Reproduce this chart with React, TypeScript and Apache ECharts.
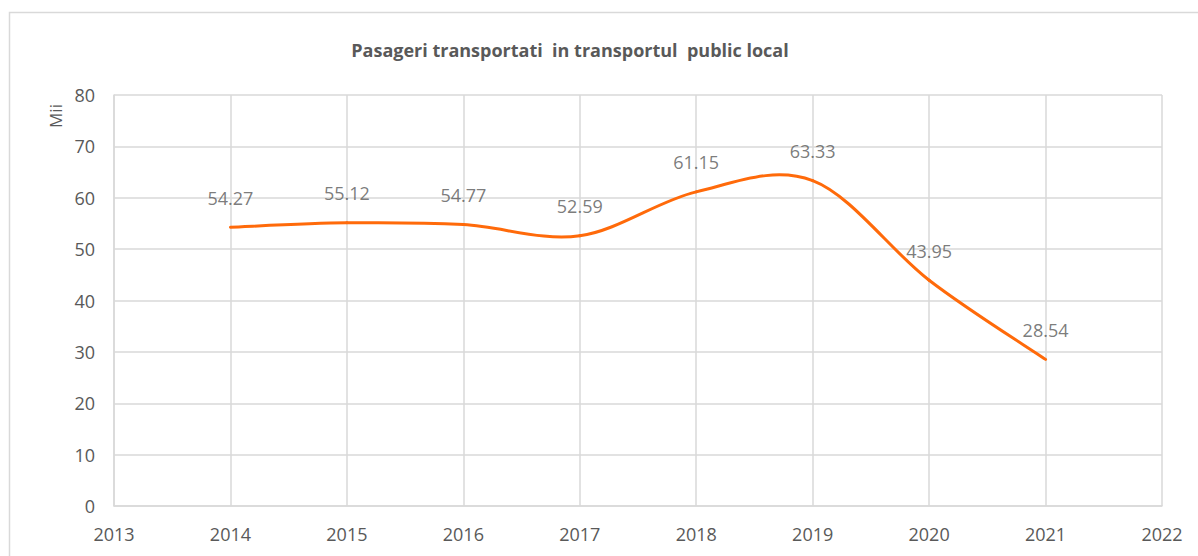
import React, { useEffect, useRef } from "react";
import * as echarts from "echarts";

const years = [2014, 2015, 2016, 2017, 2018, 2019, 2020, 2021];
const passengers = [54.27, 55.12, 54.77, 52.59, 61.15, 63.33, 43.95, 28.54];
const titleText = "Pasageri transportati  in transportul  public local";
const yAxisName = "Mii";

const TEXT = "#595959";
const GRID = "#d9d9d9";
const LINE = "#ff6a0a";
const FONT = "'Open Sans', sans-serif";

export default function App() {
  const ref = useRef<HTMLDivElement>(null);
  useEffect(() => {
    if (!ref.current) return;
    const chart = echarts.init(ref.current, null, { renderer: "svg" });
    const n = years.length;
    const pt = (api: any, k: number) => {
      const j = Math.max(0, Math.min(n - 1, k));
      return api.coord([years[j], passengers[j]]);
    };
    chart.setOption({
      animation: false,
      backgroundColor: "#ffffff",
      textStyle: { fontFamily: FONT },
      graphic: [
        {
          type: "rect",
          shape: { x: 9.5, y: 12.5, width: 1250, height: 600 },
          style: { fill: "none", stroke: GRID, lineWidth: 1.5 },
          silent: true,
        },
        {
          type: "text",
          x: 570,
          y: 50,
          style: {
            text: titleText,
            fill: TEXT,
            font: `bold 18px ${FONT}`,
            textAlign: "center",
            textVerticalAlign: "middle",
          },
        },
        {
          type: "text",
          x: 55,
          y: 116,
          rotation: Math.PI / 2,
          style: {
            text: yAxisName,
            fill: TEXT,
            font: `17px ${FONT}`,
            textAlign: "center",
            textVerticalAlign: "middle",
          },
        },
      ],
      grid: { left: 114, right: 36, top: 95, bottom: 50, containLabel: false },
      xAxis: {
        type: "value",
        min: 2013,
        max: 2022,
        interval: 1,
        axisLine: { show: true, lineStyle: { color: GRID, width: 1.5 } },
        axisTick: { show: false },
        splitLine: { show: true, lineStyle: { color: GRID, width: 1.5 } },
        axisLabel: {
          color: TEXT,
          fontSize: 18,
          fontFamily: FONT,
          margin: 19,
          formatter: (v: number) => String(v),
        },
      },
      yAxis: {
        type: "value",
        min: 0,
        max: 80,
        interval: 10,
        axisLine: { show: true, lineStyle: { color: GRID, width: 1.5 } },
        axisTick: { show: false },
        splitLine: { show: true, lineStyle: { color: GRID, width: 1.5 } },
        axisLabel: { color: TEXT, fontSize: 18, fontFamily: FONT, margin: 19 },
      },
      series: [
        {
          type: "custom",
          data: years.slice(0, n - 1).map((y, i) => [y, passengers[i]]),
          clip: false,
          silent: true,
          renderItem: (params: any, api: any) => {
            const i = params.dataIndex;
            const p0 = pt(api, i - 1);
            const p1 = pt(api, i);
            const p2 = pt(api, i + 1);
            const p3 = pt(api, i + 2);
            return {
              type: "bezierCurve",
              shape: {
                x1: p1[0],
                y1: p1[1],
                x2: p2[0],
                y2: p2[1],
                cpx1: p1[0] + (p2[0] - p0[0]) / 6,
                cpy1: p1[1] + (p2[1] - p0[1]) / 6,
                cpx2: p2[0] - (p3[0] - p1[0]) / 6,
                cpy2: p2[1] - (p3[1] - p1[1]) / 6,
              },
              style: { stroke: LINE, lineWidth: 3, fill: "none", lineCap: "round" },
            };
          },
        },
        {
          type: "scatter",
          data: years.map((y, i) => [y, passengers[i]]),
          symbol: "circle",
          symbolSize: 1,
          itemStyle: { color: "rgba(0,0,0,0)" },
          silent: true,
          label: {
            show: true,
            position: "top",
            distance: 20,
            color: TEXT,
            fontSize: 18,
            fontFamily: FONT,
            formatter: (p: any) => p.value[1].toFixed(2),
          },
        },
      ],
    });
    return () => chart.dispose();
  }, []);
  return (
    <div
      ref={ref}
      style={{ position: "absolute", left: 0, top: 0, width: 1198, height: 556 }}
    />
  );
}
